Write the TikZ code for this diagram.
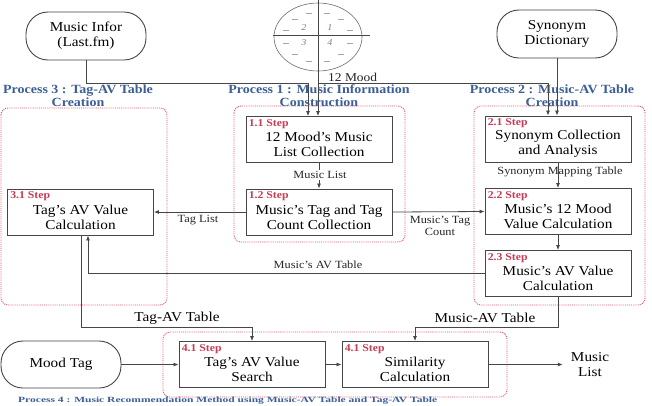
\documentclass[tikz,border=0pt]{standalone}
\usepackage{fontspec}
\setmainfont{Liberation Serif}[FakeStretch=1.12]
\usetikzlibrary{arrows.meta,shapes.geometric,calc}
\definecolor{procblue}{RGB}{60,95,150}
\definecolor{regred}{RGB}{225,80,105}
\definecolor{steplred}{RGB}{200,60,85}
\definecolor{linegray}{RGB}{70,70,70}
\begin{document}
\begin{tikzpicture}[x=1pt,y=-1pt,
  stepbox/.style={draw=linegray, line width=0.9pt, minimum width=146pt, minimum height=46pt, inner sep=0pt},
  steptext/.style={align=center, font=\fontsize{13.6}{15}\selectfont, inner sep=0pt},
  steplbl/.style={anchor=north west, text=steplred, font=\bfseries\fontsize{10.5}{11}\selectfont, inner sep=0pt},
  stadium/.style={draw=linegray, line width=0.9pt, rounded corners=22pt, minimum width=120pt, minimum height=48pt, align=center, font=\fontsize{13.6}{15}\selectfont},
  region/.style={draw=regred, line width=0.9pt, densely dotted, rounded corners=7pt},
  proclbl/.style={align=center, text=procblue, font=\bfseries\fontsize{12.5}{13}\selectfont, inner sep=0pt},
  smalllbl/.style={align=center, font=\fontsize{11}{12}\selectfont, inner sep=0pt, text=black!85},
  biglbl/.style={align=center, font=\fontsize{13.6}{15}\selectfont, inner sep=0pt},
  arr/.style={draw=linegray, line width=0.8pt, -{Latex[length=5pt,width=4pt]}},
  conn/.style={draw=linegray, line width=0.8pt}
]
\useasboundingbox (0,0) rectangle (652,405);
\fill[white] (0,0) rectangle (652,405);

% regions
\draw[region] (1,108) rectangle (167,305);
\draw[region] (234,106) rectangle (405,242);
\draw[region] (474,106) rectangle (645,305);
\draw[region] (163,332) rectangle (507,397);

% process labels
\node[proclbl] (p3) at (78,96) {Process 3 : Tag-AV Table\\Creation};
\node[proclbl] (p1) at (319,96) {Process 1 : Music Information\\Construction};
\node[proclbl] (p2) at (552,96) {Process 2 : Music-AV Table\\Creation};
\node[proclbl, anchor=north west] (p4) at (18,396.5) {\resizebox*{419pt}{7.3pt}{Process 4 : Music Recommendation Method using Music-AV Table and Tag-AV Table}};

% top sources
\node[stadium] (mi) at (86,36) {Music Infor\\(Last.fm)};
\node[stadium] (sd) at (557,34) {Synonym\\Dictionary};
\node[draw=linegray!80, line width=0.6pt, ellipse, minimum width=88pt, minimum height=68pt] (mood) at (318,37) {};
\draw[linegray, line width=0.6pt] (273,35) -- (370,35);
\draw[linegray, line width=0.6pt] (318,0) -- (mood.south);
\foreach \a in {15,45,75,105,135,165,195,225,255,285,315,345}
  \draw[gray!70, line width=0.5pt] ({318+33*cos(\a)-3},{37-25*sin(\a)}) -- ++(6,0);
\node[font=\itshape\fontsize{9}{9}\selectfont, text=gray, inner sep=0pt] (n2) at (304,28) {2};
\node[font=\itshape\fontsize{9}{9}\selectfont, text=gray, inner sep=0pt] (n1) at (330,28) {1};
\node[font=\itshape\fontsize{9}{9}\selectfont, text=gray, inner sep=0pt] (n3) at (304,43) {3};
\node[font=\itshape\fontsize{9}{9}\selectfont, text=gray, inner sep=0pt] (n4) at (330,43) {4};

% step boxes
\node[stepbox] (s11) at (319,139.5) {};
\node[steptext] (t11) at ([yshift=-5pt]s11.center) {12 Mood's Music\\List Collection};
\node[steplbl] (l11) at ([xshift=3pt,yshift=-3pt]s11.north west) {1.1 Step};

\node[stepbox] (s12) at (319,212) {};
\node[steptext] (t12) at ([yshift=-5pt]s12.center) {Music's Tag and Tag\\Count Collection};
\node[steplbl] (l12) at ([xshift=3pt,yshift=-3pt]s12.north west) {1.2 Step};

\node[stepbox] (s31) at (80.5,212) {};
\node[steptext] (t31) at ([yshift=-5pt]s31.center) {Tag's AV Value\\Calculation};
\node[steplbl] (l31) at ([xshift=3pt,yshift=-3pt]s31.north west) {3.1 Step};

\node[stepbox] (s21) at (558,139) {};
\node[steptext] (t21) at ([yshift=-5pt]s21.center) {Synonym Collection\\and Analysis};
\node[steplbl] (l21) at ([xshift=3pt,yshift=-3pt]s21.north west) {2.1 Step};

\node[stepbox] (s22) at (558,211.5) {};
\node[steptext] (t22) at ([yshift=-5pt]s22.center) {Music's 12 Mood\\Value Calculation};
\node[steplbl] (l22) at ([xshift=3pt,yshift=-3pt]s22.north west) {2.2 Step};

\node[stepbox] (s23) at (558,273.5) {};
\node[steptext] (t23) at ([yshift=-5pt]s23.center) {Music's AV Value\\Calculation};
\node[steplbl] (l23) at ([xshift=3pt,yshift=-3pt]s23.north west) {2.3 Step};

\node[stepbox] (s41a) at (252,364.5) {};
\node[steptext] (t41a) at ([yshift=-5pt]s41a.center) {Tag's AV Value\\Search};
\node[steplbl] (l41a) at ([xshift=3pt,yshift=-3pt]s41a.north west) {4.1 Step};

\node[stepbox] (s41b) at (415,364.5) {};
\node[steptext] (t41b) at ([yshift=-5pt]s41b.center) {Similarity\\Calculation};
\node[steplbl] (l41b) at ([xshift=3pt,yshift=-3pt]s41b.north west) {4.1 Step};

\node[stadium, minimum height=47pt] (mt) at (61,364.5) {Mood Tag};
\node[biglbl] (ml) at (590,364.5) {Music\\List};

% junctions
\coordinate (j1) at (308,83);
\coordinate (j2) at (548,83);
\coordinate (j3) at (81,327);
\coordinate (j4) at (558,327);
\coordinate (j5) at (88,273.5);

% connectors
\draw[arr] (mi.south) |- (j1) -- (j1 |- s11.north);
\draw[arr] (mood.south) -- (mood.south |- s11.north);
\draw[arr] (mood.south |- j2) -- (j2) -- (j2 |- s21.north);
\node[smalllbl, font=\fontsize{12}{13}\selectfont, anchor=base west] (lm) at (328,81) {12 Mood};
\draw[arr] (sd.south) -- (sd.south |- s21.north);

\draw[arr] (s11.south) -- (s12.north);
\node[smalllbl, fill=white, inner sep=1pt] (lml) at (320,175) {Music List};
\draw[arr] (s12.west) -- (s31.east);
\node[smalllbl] (ltl) at (198,220) {Tag List};
\draw[arr] (s12.east) -- (s22.west);
\node[smalllbl] (lmtc) at (440,226) {Music's Tag\\Count};
\draw[arr] (s21.south) -- (s22.north);
\node[smalllbl] (lsmt) at (560,172) {Synonym Mapping Table};
\draw[arr] (s22.south) -- (s23.north);
\draw[arr] (s23.west) -- (j5) -- (j5 |- s31.south);
\node[smalllbl] (lmav) at (318,265) {Music's AV Table};

\draw[arr] (j3 |- s31.south) -- (j3) -| (s41a.north);
\node[biglbl] (ltav) at (177,318) {Tag-AV Table};
\draw[arr] (s23.south) -- (j4) -| (s41b.north);
\node[biglbl] (lmav2) at (485,318) {Music-AV Table};

\draw[arr] (mt.east) -- (s41a.west);
\draw[arr] (s41a.east) -- (s41b.west);
\draw[arr, shorten >=8pt] (s41b.east) -- (ml.west);
\end{tikzpicture}
\end{document}
